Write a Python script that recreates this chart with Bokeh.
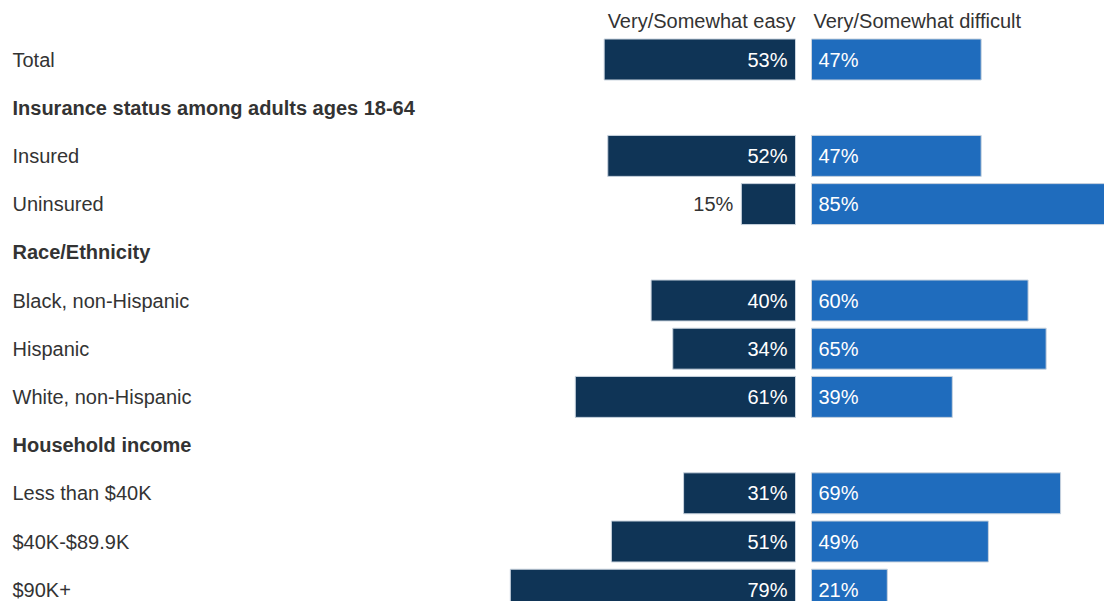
from bokeh.plotting import figure
from bokeh.models import Range1d, ColumnDataSource
from bokeh.core.properties import value
from bokeh.embed import file_html
from bokeh.resources import INLINE

# ---- data ----
rows = ["Total", "Insurance status among adults ages 18-64", "Insured", "Uninsured",
        "Race/Ethnicity", "Black, non-Hispanic", "Hispanic", "White, non-Hispanic",
        "Household income", "Less than $40K", "$40K-$89.9K", "$90K+"]
is_header = [False, True, False, False, True, False, False, False, True, False, False, False]
easy = [53, None, 52, 15, None, 40, 34, 61, None, 31, 51, 79]
difficult = [47, None, 47, 85, None, 60, 65, 39, None, 69, 49, 21]
series_names = ["Very/Somewhat easy", "Very/Somewhat difficult"]

DARK = "#0f3456"
BLUE = "#1f6cbd"
TEXT = "#333333"
FONT = "Liberation Sans"
FS = "20px"

PX = 3.61          # pixels per percent
GAP = 8 / PX       # half gap between the two bar groups, in percent units
W, H = 1104, 601
CX = 803           # x of center (between bars)
ROW0, ROWH = 59, 48.2

p = figure(width=W, height=H, output_backend="svg", toolbar_location=None,
           x_range=Range1d(-CX / PX, (W - CX) / PX),
           y_range=Range1d((H - ROW0) / ROWH, -ROW0 / ROWH),
           min_border=0, outline_line_color=None)
p.axis.visible = False
p.grid.visible = False
p.background_fill_color = "white"
p.border_fill_color = "white"

idx = [i for i, v in enumerate(easy) if v is not None]
ev = [easy[i] for i in idx]
dv = [difficult[i] for i in idx]
src = ColumnDataSource(dict(
    y=idx,
    e=ev, d=dv,
    el=[-GAP - v for v in ev], er=[-GAP] * len(idx),
    dl=[GAP] * len(idx), dr=[GAP + v for v in dv],
    et=[f"{v}%" for v in ev], dt=[f"{v}%" for v in dv],
))

p.hbar(y="y", left="el", right="er", height=0.85, source=src,
       fill_color=DARK, line_color="#c9d3de", line_width=1)
p.hbar(y="y", left="dl", right="dr", height=0.85, source=src,
       fill_color=BLUE, line_color="#c9d3de", line_width=1)

# value labels
inside = [v >= 20 for v in ev]
ein = ColumnDataSource(dict(y=[y for y, k in zip(idx, inside) if k],
                            t=[t for t, k in zip(src.data["et"], inside) if k]))
eout = ColumnDataSource(dict(y=[y for y, k in zip(idx, inside) if not k],
                             x=[l for l, k in zip(src.data["el"], inside) if not k],
                             t=[t for t, k in zip(src.data["et"], inside) if not k]))
p.text(x=-GAP, y="y", text="t", source=ein, x_offset=-8, text_align="right",
       text_baseline="middle", text_color="white", text_font=value(FONT),
       text_font_size=FS)
p.text(x="x", y="y", text="t", source=eout, x_offset=-8, text_align="right",
       text_baseline="middle", text_color=TEXT, text_font=value(FONT),
       text_font_size=FS)
p.text(x=GAP, y="y", text="dt", source=src, x_offset=7, text_align="left",
       text_baseline="middle", text_color="white", text_font=value(FONT),
       text_font_size=FS)

# row labels
LX = -CX / PX
reg = ColumnDataSource(dict(y=[i for i, h in enumerate(is_header) if not h],
                            t=[r for r, h in zip(rows, is_header) if not h]))
hdr = ColumnDataSource(dict(y=[i for i, h in enumerate(is_header) if h],
                            t=[r for r, h in zip(rows, is_header) if h]))
p.text(x=LX, y="y", text="t", source=reg, x_offset=12, text_align="left",
       text_baseline="middle", text_color=TEXT, text_font=value(FONT),
       text_font_size=FS)
p.text(x=LX, y="y", text="t", source=hdr, x_offset=12, text_align="left",
       text_baseline="middle", text_color=TEXT, text_font=value(FONT),
       text_font_size=FS, text_font_style="bold")

# column headers
hy = (20 - ROW0) / ROWH
p.text(x=[-GAP], y=[hy], text=[series_names[0]], text_align="right",
       text_baseline="middle", text_color=TEXT, text_font=value(FONT),
       text_font_size=FS)
p.text(x=[GAP], y=[hy], text=[series_names[1]], x_offset=2, text_align="left",
       text_baseline="middle", text_color=TEXT, text_font=value(FONT),
       text_font_size=FS)

open("out.html", "w").write(file_html(p, INLINE))
